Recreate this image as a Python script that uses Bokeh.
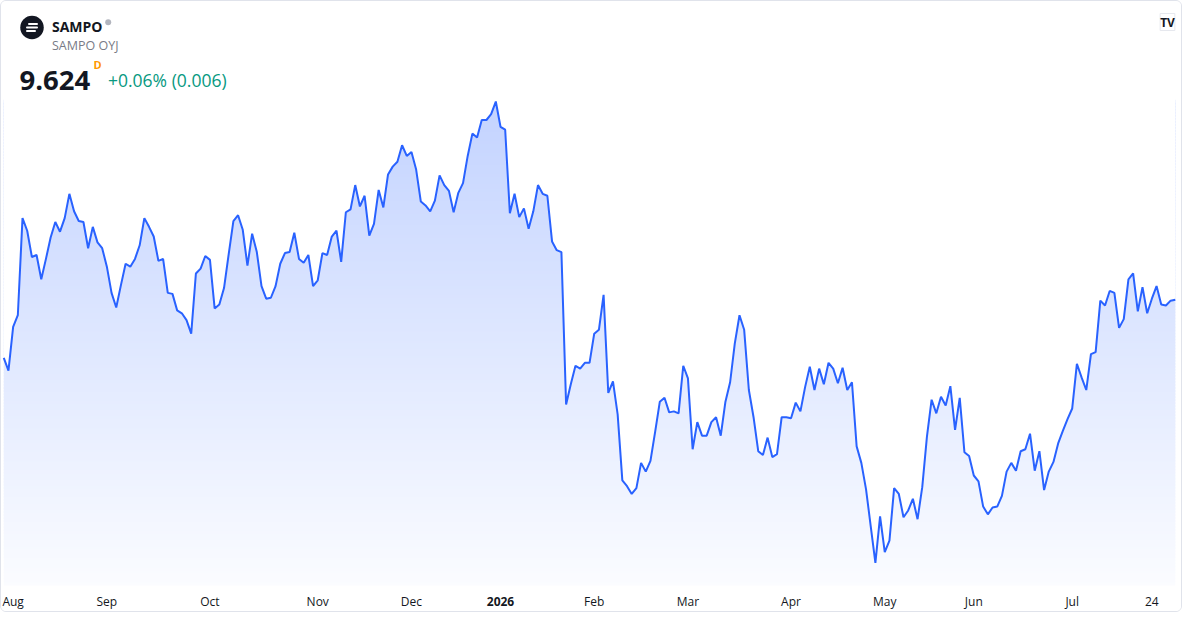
import numpy as np
from bokeh.plotting import figure
from bokeh.models import Range1d, Label
from bokeh.embed import file_html
from bokeh.resources import INLINE

# ---------------- data ----------------
SYMBOL = "SAMPO"
NAME = "SAMPO OYJ"
LAST = "9.624"
INTERVAL = "D"
CHANGE = "+0.06% (0.006)"

PRICES = [
    9.384, 9.332, 9.512, 9.560, 9.960, 9.908, 9.800, 9.808, 9.708, 9.792,
    9.880, 9.944, 9.904, 9.960, 10.060, 9.988, 9.948, 9.944, 9.836, 9.924,
    9.860, 9.836, 9.760, 9.652, 9.592, 9.684, 9.772, 9.760, 9.792, 9.848,
    9.960, 9.924, 9.884, 9.784, 9.792, 9.652, 9.648, 9.580, 9.568, 9.540,
    9.484, 9.732, 9.752, 9.804, 9.788, 9.588, 9.604, 9.672, 9.812, 9.948,
    9.972, 9.912, 9.764, 9.896, 9.820, 9.680, 9.628, 9.632, 9.680, 9.772,
    9.816, 9.820, 9.900, 9.792, 9.776, 9.808, 9.680, 9.704, 9.816, 9.808,
    9.884, 9.908, 9.780, 9.984, 9.996, 10.096, 10.008, 10.052, 9.888, 9.936,
    10.076, 10.004, 10.140, 10.172, 10.192, 10.260, 10.216, 10.232, 10.160, 10.028,
    10.012, 9.988, 10.032, 10.136, 10.096, 10.072, 9.984, 10.064, 10.104, 10.216,
    10.308, 10.292, 10.364, 10.364, 10.388, 10.440, 10.336, 10.324, 9.980, 10.060,
    9.964, 10.000, 9.916, 9.988, 10.096, 10.060, 10.052, 9.864, 9.828, 9.820,
    9.192, 9.276, 9.352, 9.340, 9.364, 9.364, 9.484, 9.500, 9.644, 9.240,
    9.288, 9.152, 8.880, 8.856, 8.824, 8.848, 8.952, 8.916, 8.960, 9.080,
    9.204, 9.220, 9.160, 9.164, 9.156, 9.352, 9.300, 9.008, 9.120, 9.064,
    9.064, 9.120, 9.140, 9.064, 9.204, 9.284, 9.444, 9.560, 9.500, 9.252,
    9.140, 9.000, 8.984, 9.056, 8.976, 8.988, 9.140, 9.140, 9.136, 9.200,
    9.164, 9.264, 9.348, 9.252, 9.340, 9.276, 9.364, 9.340, 9.280, 9.344,
    9.252, 9.284, 9.020, 8.952, 8.844, 8.692, 8.540, 8.732, 8.584, 8.632,
    8.848, 8.824, 8.728, 8.756, 8.804, 8.720, 8.852, 9.060, 9.212, 9.156,
    9.224, 9.188, 9.268, 9.088, 9.220, 8.996, 8.980, 8.900, 8.876, 8.772,
    8.740, 8.768, 8.772, 8.816, 8.916, 8.952, 8.920, 9.000, 9.008, 9.072,
    8.920, 9.000, 8.840, 8.916, 8.956, 9.032, 9.084, 9.132, 9.176, 9.360,
    9.304, 9.252, 9.400, 9.408, 9.620, 9.600, 9.660, 9.652, 9.508, 9.544,
    9.708, 9.732, 9.576, 9.676, 9.568, 9.628, 9.680, 9.604, 9.600, 9.620,
    9.624,
]

TICK_IDX = [2, 22, 44, 67, 87, 106, 126, 146, 168, 188, 207, 228, 245]
TICK_LABELS = ["Aug", "Sep", "Oct", "Nov", "Dec", "2026", "Feb", "Mar",
               "Apr", "May", "Jun", "Jul", "24"]
YEAR_LABEL = "2026"

# ---------------- layout / style ----------------
W, H = 1182, 612          # canvas (plus 1px CSS border each side)
PANE_H = 584              # price pane height (time scale below it)
X_START, X_END = -0.484, 251.75
Y_TOP, PANE_BOT = 10.852, 8.447
Y_BOT = Y_TOP - (Y_TOP - PANE_BOT) * H / PANE_H
FONT = "Open Sans"
LINE_COLOR = "#2962ff"
TEXT = "#131722"

idx = np.arange(len(PRICES))
prices = np.array(PRICES)

p = figure(width=W, height=H, output_backend="svg", toolbar_location=None,
           x_range=Range1d(X_START, X_END), y_range=Range1d(Y_BOT, Y_TOP),
           min_border=0)
p.styles = {"border": "1px solid #e0e3eb", "border-radius": "6px", "overflow": "hidden"}
p.outline_line_color = None
p.background_fill_color = "white"
p.border_fill_color = "white"
p.xgrid.visible = False
p.ygrid.visible = False
p.xaxis.visible = False
p.yaxis.visible = False

# gradient fill under the line: horizontal colour bands, then white mask above the line
pmax = prices.max()
n = 160
edges = np.linspace(PANE_BOT, pmax, n + 1)
step = edges[1] - edges[0]
a_top, a_bot = 0.28, 0.02
cols = []
for k in range(n):
    f = ((edges[k] + edges[k + 1]) / 2 - PANE_BOT) / (pmax - PANE_BOT)
    a = a_bot + (a_top - a_bot) * f
    r = round(255 - a * (255 - 41))
    g = round(255 - a * (255 - 98))
    cols.append(f"#{r:02x}{g:02x}ff")
p.quad(left=idx[0], right=idx[-1], bottom=edges[:-1], top=edges[1:] + step * 0.6,
       fill_color=cols, line_color=None)
p.varea(x=idx, y1=prices, y2=Y_TOP + 1, fill_color="white")
p.line(idx, prices, line_color=LINE_COLOR, line_width=2)

# time-scale labels
for i, t in zip(TICK_IDX, TICK_LABELS):
    p.add_layout(Label(x=i, y=12.5, x_units="data", y_units="screen", text=t,
                       text_font=FONT, text_font_size="12px",
                       text_font_style="bold" if t == YEAR_LABEL else "normal",
                       text_color=TEXT, text_align="center", text_baseline="middle"))


# header helpers (pixel -> data for decorative logo)
def sx(px):
    return X_START + px * (X_END - X_START) / W


def sy(py):
    return Y_TOP - py * (Y_TOP - Y_BOT) / H


# logo
p.scatter(x=[sx(30.5)], y=[sy(26)], size=23.5, fill_color=TEXT, line_color=None)
p.segment(x0=[sx(27.5), sx(25.5), sx(25.5)], y0=[sy(22.5), sy(26), sy(29.5)],
          x1=[sx(35.5), sx(35.5), sx(33.5)], y1=[sy(22.5), sy(26), sy(29.5)],
          line_color="white", line_width=2, line_cap="round")
p.scatter(x=[sx(106.7)], y=[sy(20.8)], size=6, fill_color="#b2b5be", line_color=None)


def lab(x, y, text, size, color, style="normal", baseline="alphabetic", align="left", **kw):
    p.add_layout(Label(x=x, y=H - y, x_units="screen", y_units="screen", text=text,
                       text_font=FONT, text_font_size=size, text_font_style=style,
                       text_color=color, text_baseline=baseline, text_align=align, **kw))


lab(50.5, 25.3, SYMBOL, "14px", TEXT, "bold")
lab(50.5, 43.7, NAME, "12.5px", "#787b86")
lab(18.0, 79.0, LAST, "27.5px", TEXT, "bold")
lab(92.0, 63.3, INTERVAL, "11px", "#ff9800", "bold")
lab(106.5, 78.3, CHANGE, "17.5px", "#089981")
lab(1166, 20.5, "TV", "12px", TEXT, "bold", baseline="middle", align="center",
    background_fill_color="white", border_line_color="#e6e8ee")

open("out.html", "w").write(file_html(p, INLINE))
